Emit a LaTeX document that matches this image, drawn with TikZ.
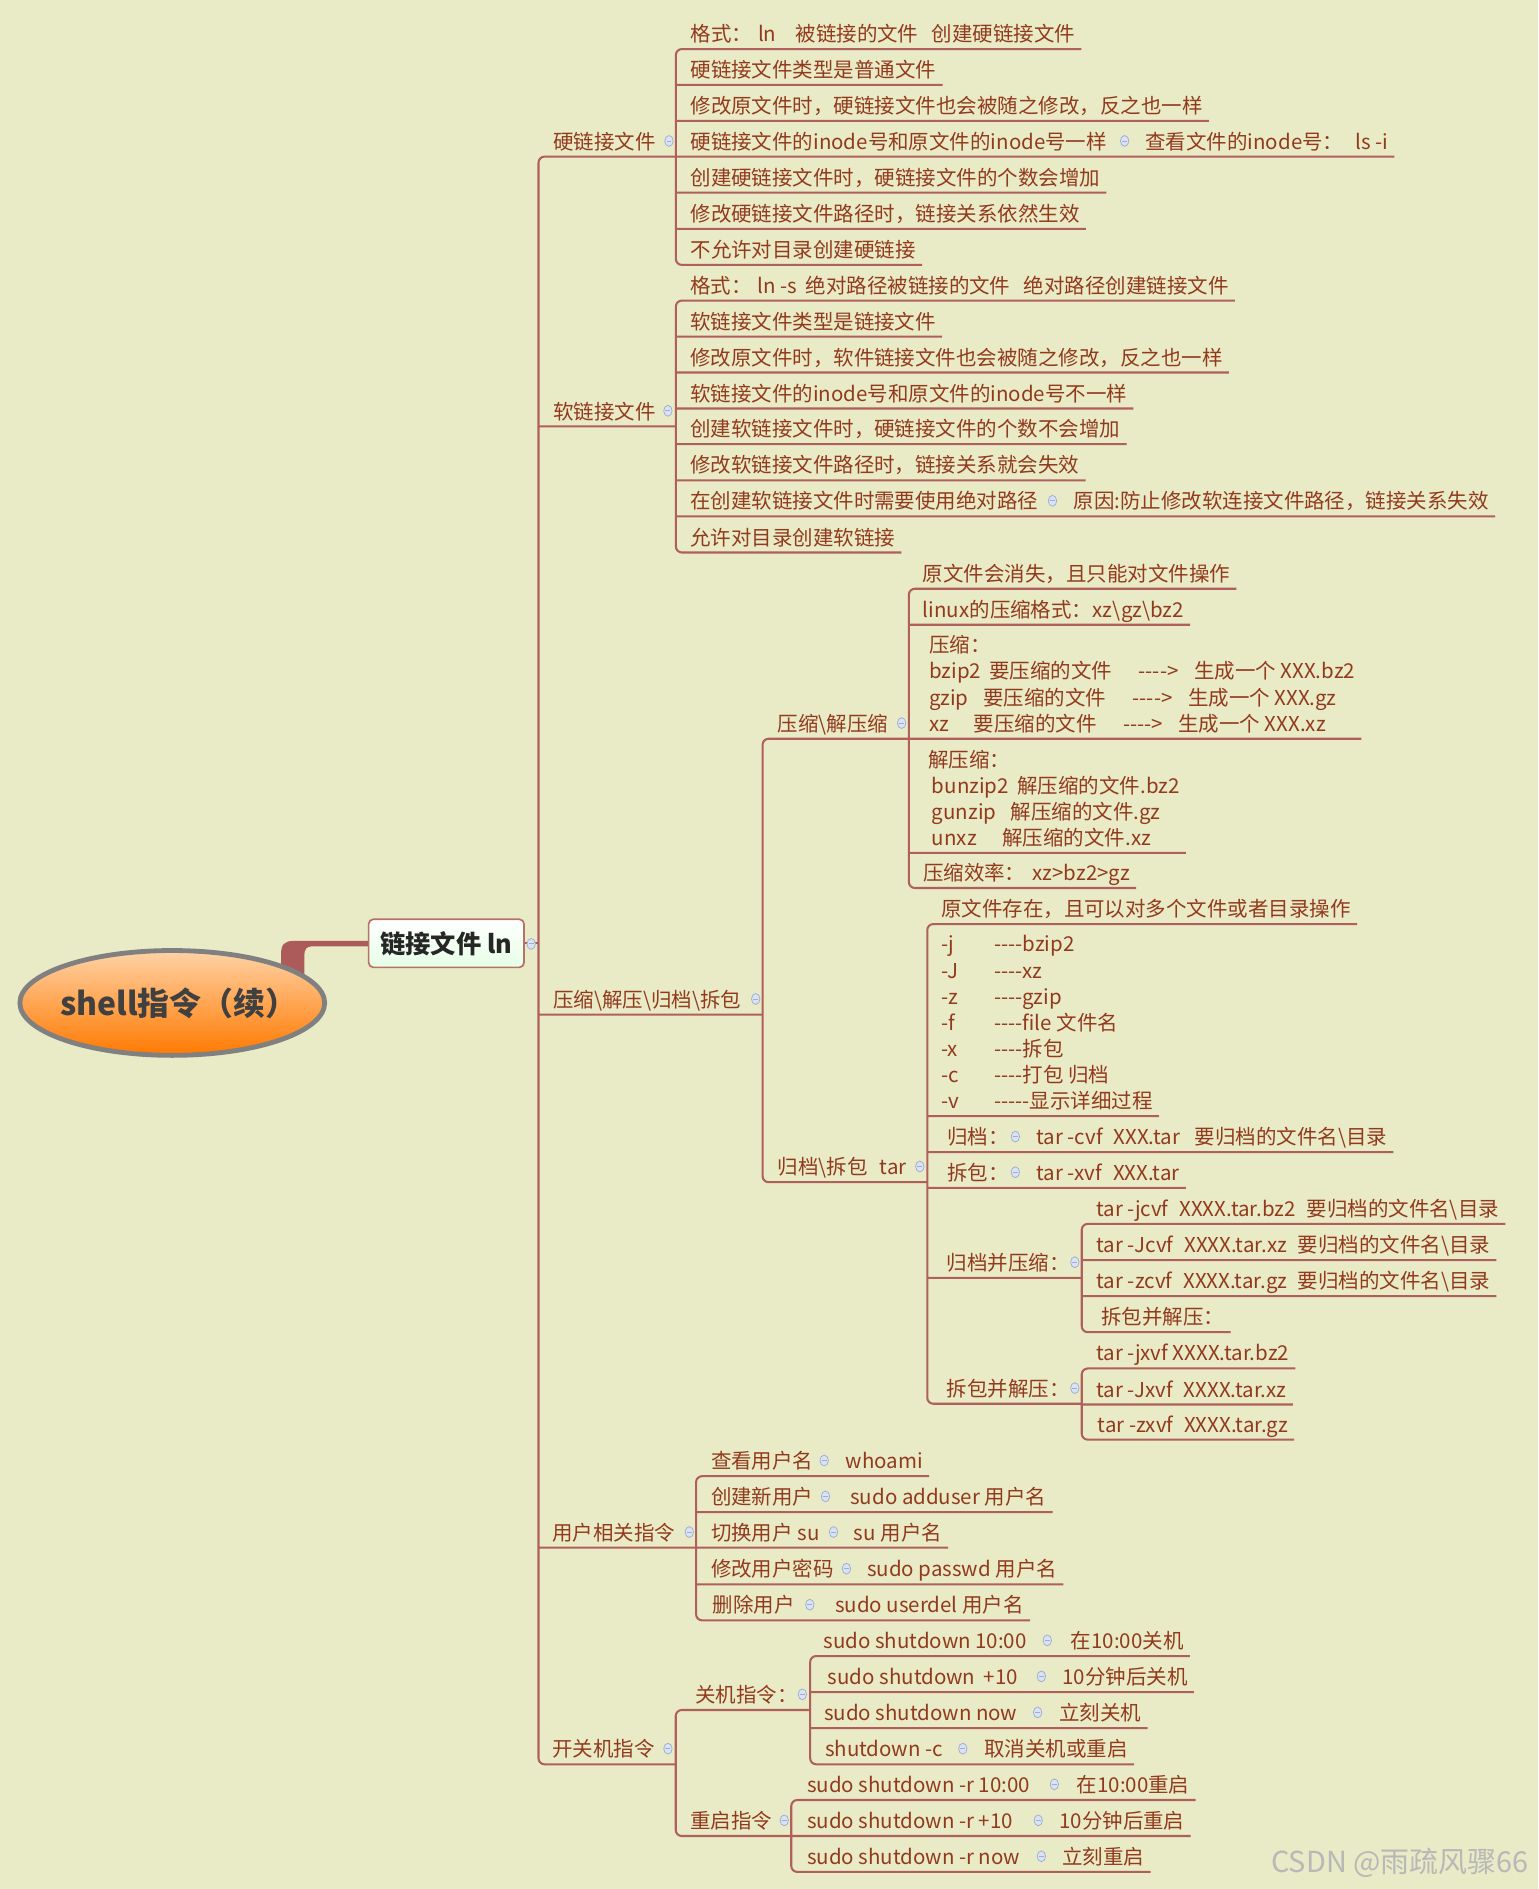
\documentclass[tikz,border=0pt]{standalone}
\usepackage{fontspec}
\usetikzlibrary{shapes.geometric, positioning}
\newfontfamily\cjk{Noto Sans CJK SC}
\definecolor{bgc}{HTML}{E9EAC6}
\definecolor{linec}{HTML}{B0605B}
\definecolor{txtc}{HTML}{923A1E}
\definecolor{indfill}{HTML}{D9E3F4}
\definecolor{inddraw}{HTML}{9DACCF}
\definecolor{stemc}{HTML}{AD5A5A}
\newcommand{\rows}[1]{\begin{tabular}[b]{@{}l@{}}#1\end{tabular}}

\tikzset{
  topic/.style={font=\cjk\fontsize{17}{21.7}\selectfont, text=txtc, inner sep=0pt, text depth=6pt, anchor=south west},
  branch/.style={draw=linec, line width=1.7pt, rounded corners=5pt},
  ind/.style={ellipse, minimum width=7pt, minimum height=9pt, inner sep=0pt, fill=indfill, draw=inddraw, line width=0.6pt,
    path picture={\draw[inddraw, line width=0.7pt] ([xshift=-2pt]path picture bounding box.center) -- ([xshift=2pt]path picture bounding box.center);}},
  rootnode/.style={ellipse, minimum width=253pt, minimum height=87pt, inner xsep=-40pt, inner ysep=0pt, draw=black!50, line width=4pt,
    top color=orange!35!white, bottom color=orange!95!red, text=black!75, font=\cjk\bfseries\fontsize{26.5}{30}\selectfont},
  linkbox/.style={rectangle, rounded corners=4pt, draw=linec!90, line width=1.4pt, minimum width=129pt, minimum height=40pt,
    inner sep=0pt, top color=white, bottom color=green!10!white, text=black!85, font=\cjk\bfseries\fontsize{21}{24}\selectfont},
  wmark/.style={text=black!28, font=\cjk\fontsize{24}{28}\selectfont, inner sep=0pt}
}

\begin{document}
\begin{tikzpicture}[x=1pt, y=-1pt]
  \fill[bgc] (0,0) rectangle (1277,1568);
  \useasboundingbox (0,0) rectangle (1277,1568);

  % branch columns
  \coordinate (rootV) at (447,0);
  \coordinate (hardV) at (561,0);
  \coordinate (softV) at (561,0);
  \coordinate (archV) at (633,0);
  \coordinate (zipV) at (754.4,0);
  \coordinate (tarV) at (769.7,0);
  \coordinate (packV) at (897.9,0);
  \coordinate (unpackV) at (897.9,0);
  \coordinate (userV) at (577.8,0);
  \coordinate (powerV) at (560.9,0);
  \coordinate (offV) at (672.5,0);
  \coordinate (rebootV) at (656.8,0);

  % central topics
  \node[linkbox] (link) at (370.5,783) {链接文件 ln};
  \fill[stemc] (233.3,815) -- (233.3,792) .. controls (233.3,784) and (236,781) .. (244,781)
    -- ([yshift=2pt]link.west) -- ([yshift=-2.5pt]link.west) -- (259,785.5)
    .. controls (254.5,785.5) and (252.6,788) .. (252.6,793) -- (252.6,815) -- cycle;
  \node[rootnode] (root) at (143,832.5) {\hspace{11pt}shell指令（续）};

  \node[topic] (hard) at (459,130) {硬链接文件};
  \node[topic] (soft) at (459,354) {软链接文件};
  \node[topic] (arch) at (459,842.2) {压缩\textbackslash 解压\textbackslash 归档\textbackslash 拆包};
  \node[topic] (user) at (458.1,1284.7) {用户相关指令};
  \node[topic] (power) at (458.4,1464.5) {开关机指令};

  % hard links
  \node[topic] (hard1) at (573,40.7) {格式：\hspace{5pt}ln\hspace{16pt}被链接的文件\hspace{11pt}创建硬链接文件};
  \node[topic] (hard2) at (573,70.5) {硬链接文件类型是普通文件};
  \node[topic] (hard3) at (573,100.4) {修改原文件时，硬链接文件也会被随之修改，反之也一样};
  \node[topic] (hard4) at (573,130) {硬链接文件的inode号和原文件的inode号一样};
  \node[topic] (hard4b) at (950.6,130) {查看文件的inode号：\hspace{10pt}ls -i};
  \node[topic] (hard5) at (573,159.9) {创建硬链接文件时，硬链接文件的个数会增加};
  \node[topic] (hard6) at (573,190) {修改硬链接文件路径时，链接关系依然生效};
  \node[topic] (hard7) at (573,219.9) {不允许对目录创建硬链接};

  % soft links
  \node[topic] (soft1) at (572.7,249.5) {格式：\hspace{5pt}ln -s\hspace{7pt}绝对路径被链接的文件\hspace{11pt}绝对路径创建链接文件};
  \node[topic] (soft2) at (572.7,279.4) {软链接文件类型是链接文件};
  \node[topic] (soft3) at (572.7,309.2) {修改原文件时，软件链接文件也会被随之修改，反之也一样};
  \node[topic] (soft4) at (572.7,339.1) {软链接文件的inode号和原文件的inode号不一样};
  \node[topic] (soft5) at (572.7,368.7) {创建软链接文件时，硬链接文件的个数不会增加};
  \node[topic] (soft6) at (572.7,398.8) {修改软链接文件路径时，链接关系就会失效};
  \node[topic] (soft7) at (572.7,428.7) {在创建软链接文件时需要使用绝对路径};
  \node[topic] (soft7b) at (890.9,428.7) {原因:防止修改软连接文件路径，链接关系失效};
  \node[topic] (soft8) at (572.7,458.6) {允许对目录创建软链接};

  % compression
  \node[topic] (zip) at (645.4,613.2) {压缩\textbackslash 解压缩};
  \node[topic] (zip1) at (765.9,488.7) {原文件会消失，且只能对文件操作};
  \node[topic] (zip2) at (765.9,518.6) {linux的压缩格式：xz\textbackslash gz\textbackslash bz2};
  \node[topic] (zip3) at (771,613.2) {\rows{压缩：\\
    \makebox[50pt][l]{bzip2}\makebox[124pt][l]{要压缩的文件}\makebox[46pt][l]{---->}生成一个 XXX.bz2\\
    \makebox[45pt][l]{gzip}\makebox[124pt][l]{要压缩的文件}\makebox[46pt][l]{---->}生成一个 XXX.gz\\
    \makebox[37pt][l]{xz}\makebox[124pt][l]{要压缩的文件}\makebox[46pt][l]{---->}生成一个 XXX.xz}};
  \node[topic] (zip4) at (770.4,708) {\rows{解压缩：\\
    \hspace{3pt}\makebox[71pt][l]{bunzip2}解压缩的文件.bz2\\
    \hspace{3pt}\makebox[65.5pt][l]{gunzip}解压缩的文件.gz\\
    \hspace{3pt}\makebox[58.5pt][l]{unxz}解压缩的文件.xz}};
  \node[topic] (zip5) at (766,737.1) {压缩效率：\hspace{6pt}xz>bz2>gz};

  % archiving
  \node[topic] (tar) at (645.4,981.3) {归档\textbackslash 拆包\hspace{10pt}tar};
  \node[topic] (tar1) at (781,767) {原文件存在，且可以对多个文件或者目录操作};
  \node[topic] (tar2) at (781,926.5) {\rows{\makebox[44pt][l]{-j}----bzip2\\
    \makebox[44pt][l]{-J}----xz\\
    \makebox[44pt][l]{-z}----gzip\\
    \makebox[44pt][l]{-f}----file 文件名\\
    \makebox[44pt][l]{-x}----拆包\\
    \makebox[44pt][l]{-c}----打包 归档\\
    \makebox[44pt][l]{-v}-----显示详细过程}};
  \node[topic] (tar3) at (786.2,956.4) {归档：};
  \node[topic] (tar3b) at (860.2,956.4) {tar -cvf\hspace{9pt}XXX.tar\hspace{12pt}要归档的文件名\textbackslash 目录};
  \node[topic] (tar4) at (786.2,986) {拆包：};
  \node[topic] (tar4b) at (860.2,986) {tar -xvf\hspace{9pt}XXX.tar};
  \node[topic] (pack) at (785.7,1060.7) {归档并压缩：};
  \node[topic] (pack1) at (910.1,1015.9) {tar -jcvf\hspace{9pt}XXXX.tar.bz2\hspace{9pt}要归档的文件名\textbackslash 目录};
  \node[topic] (pack2) at (910.1,1046) {tar -Jcvf\hspace{9pt}XXXX.tar.xz\hspace{9pt}要归档的文件名\textbackslash 目录};
  \node[topic] (pack3) at (910.1,1075.9) {tar -zcvf\hspace{9pt}XXXX.tar.gz\hspace{9pt}要归档的文件名\textbackslash 目录};
  \node[topic] (pack4) at (914.1,1105.8) {拆包并解压：};
  \node[topic] (unpack) at (785.7,1165.2) {拆包并解压：};
  \node[topic] (unpack1) at (910.1,1135.9) {tar -jxvf XXXX.tar.bz2};
  \node[topic] (unpack2) at (910.1,1165.8) {tar -Jxvf\hspace{9pt}XXXX.tar.xz};
  \node[topic] (unpack3) at (911,1195) {tar -zxvf\hspace{9pt}XXXX.tar.gz};

  % users
  \node[topic] (user1) at (590,1225.3) {查看用户名};
  \node[topic] (user1b) at (701.9,1225.3) {whoami};
  \node[topic] (user2) at (590,1255.1) {创建新用户};
  \node[topic] (user2b) at (705.6,1255.1) {sudo adduser 用户名};
  \node[topic] (user3) at (590,1284.7) {切换用户 su};
  \node[topic] (user3b) at (708.6,1284.7) {su 用户名};
  \node[topic] (user4) at (590,1315.1) {修改用户密码};
  \node[topic] (user4b) at (719.6,1315.1) {sudo passwd 用户名};
  \node[topic] (user5) at (591.5,1345) {删除用户};
  \node[topic] (user5b) at (693,1345) {sudo userdel 用户名};

  % power
  \node[topic] (off) at (577,1419.4) {关机指令：};
  \node[topic] (off1) at (683.3,1374.6) {sudo shutdown 10:00};
  \node[topic] (off1b) at (888.7,1374.6) {在10:00关机};
  \node[topic] (off2) at (687,1404.5) {sudo shutdown\hspace{7pt}+10};
  \node[topic] (off2b) at (881.7,1404.5) {10分钟后关机};
  \node[topic] (off3) at (683.8,1434.4) {sudo shutdown now};
  \node[topic] (off3b) at (879.1,1434.4) {立刻关机};
  \node[topic] (off4) at (684.6,1464.5) {shutdown -c};
  \node[topic] (off4b) at (817,1464.5) {取消关机或重启};
  \node[topic] (reboot) at (572.7,1524) {重启指令};
  \node[topic] (reboot1) at (669.8,1494.1) {sudo shutdown -r 10:00};
  \node[topic] (reboot1b) at (893.6,1494.1) {在10:00重启};
  \node[topic] (reboot2) at (669.8,1524) {sudo shutdown -r +10};
  \node[topic] (reboot2b) at (879.1,1524) {10分钟后重启};
  \node[topic] (reboot3) at (669.8,1553.8) {sudo shutdown -r now};
  \node[topic] (reboot3b) at (881.7,1553.8) {立刻重启};

  % underlines and branches
  \draw[branch] (link.east) -- (link.east -| rootV);
  \draw[branch] (hard.south -| hardV) -- (hard.south -| rootV) -- (power.south -| rootV) -- (power.south -| powerV)
    (soft.south -| rootV) -- (soft.south -| softV)
    (arch.south -| rootV) -- (arch.south -| archV)
    (user.south -| rootV) -- (user.south -| userV);
  \draw[branch] ([xshift=5pt]hard1.south east) -- (hard1.south -| hardV) -- (hard7.south -| hardV) -- ([xshift=5pt]hard7.south east)
    (hard2.south -| hardV) -- ([xshift=5pt]hard2.south east)
    (hard3.south -| hardV) -- ([xshift=5pt]hard3.south east)
    (hard4.south -| hardV) -- ([xshift=5pt]hard4b.south east)
    (hard5.south -| hardV) -- ([xshift=5pt]hard5.south east)
    (hard6.south -| hardV) -- ([xshift=5pt]hard6.south east);
  \draw[branch] ([xshift=5pt]soft1.south east) -- (soft1.south -| softV) -- (soft8.south -| softV) -- ([xshift=5pt]soft8.south east)
    (soft2.south -| softV) -- ([xshift=5pt]soft2.south east)
    (soft3.south -| softV) -- ([xshift=5pt]soft3.south east)
    (soft4.south -| softV) -- ([xshift=5pt]soft4.south east)
    (soft5.south -| softV) -- ([xshift=5pt]soft5.south east)
    (soft6.south -| softV) -- ([xshift=5pt]soft6.south east)
    (soft7.south -| softV) -- ([xshift=5pt]soft7b.south east);
  \draw[branch] (zip.south -| zipV) -- (zip.south -| archV) -- (tar.south -| archV) -- (tar.south -| tarV);
  \draw[branch] ([xshift=5pt]zip1.south east) -- (zip1.south -| zipV) -- (zip5.south -| zipV) -- ([xshift=5pt]zip5.south east)
    (zip2.south -| zipV) -- ([xshift=5pt]zip2.south east)
    (zip3.south -| zipV) -- ([xshift=5pt]zip3.south east)
    (zip4.south -| zipV) -- ([xshift=5pt]zip4.south east);
  \draw[branch] ([xshift=5pt]tar1.south east) -- (tar1.south -| tarV) -- (unpack.south -| tarV) -- (unpack.south -| unpackV)
    (tar2.south -| tarV) -- ([xshift=5pt]tar2.south east)
    (tar3.south -| tarV) -- ([xshift=5pt]tar3b.south east)
    (tar4.south -| tarV) -- ([xshift=5pt]tar4b.south east)
    (pack.south -| tarV) -- (pack.south -| packV);
  \draw[branch] ([xshift=5pt]pack1.south east) -- (pack1.south -| packV) -- (pack4.south -| packV) -- ([xshift=5pt]pack4.south east)
    (pack2.south -| packV) -- ([xshift=5pt]pack2.south east)
    (pack3.south -| packV) -- ([xshift=5pt]pack3.south east);
  \draw[branch] ([xshift=5pt]unpack1.south east) -- (unpack1.south -| unpackV) -- (unpack3.south -| unpackV) -- ([xshift=5pt]unpack3.south east)
    (unpack2.south -| unpackV) -- ([xshift=5pt]unpack2.south east);
  \draw[branch] ([xshift=5pt]user1b.south east) -- (user1.south -| userV) -- (user5.south -| userV) -- ([xshift=5pt]user5b.south east)
    (user2.south -| userV) -- ([xshift=5pt]user2b.south east)
    (user3.south -| userV) -- ([xshift=5pt]user3b.south east)
    (user4.south -| userV) -- ([xshift=5pt]user4b.south east);
  \draw[branch] (off.south -| offV) -- (off.south -| powerV) -- (reboot.south -| powerV) -- (reboot.south -| rebootV);
  \draw[branch] ([xshift=5pt]off1b.south east) -- (off1.south -| offV) -- (off4.south -| offV) -- ([xshift=5pt]off4b.south east)
    (off2.south -| offV) -- ([xshift=5pt]off2b.south east)
    (off3.south -| offV) -- ([xshift=5pt]off3b.south east);
  \draw[branch] ([xshift=5pt]reboot1b.south east) -- (reboot1.south -| rebootV) -- (reboot3.south -| rebootV) -- ([xshift=5pt]reboot3b.south east)
    (reboot2.south -| rebootV) -- ([xshift=5pt]reboot2b.south east);

  % collapse markers
  \node[ind] (linkI) at (440.9,783.5) {};
  \node[ind] (hardI) at (555.3,117) {};
  \node[ind] (hard4I) at (933.5,117) {};
  \node[ind] (softI) at (554.4,341) {};
  \node[ind] (soft7I) at (873.6,415.7) {};
  \node[ind] (archI) at (627.3,829.2) {};
  \node[ind] (zipI) at (748.4,600.2) {};
  \node[ind] (tarI) at (763.5,968.3) {};
  \node[ind] (tar3I) at (842.8,943.4) {};
  \node[ind] (tar4I) at (842.8,973) {};
  \node[ind] (packI) at (892.2,1047.7) {};
  \node[ind] (unpackI) at (892.2,1152.2) {};
  \node[ind] (userI) at (572.2,1271.7) {};
  \node[ind] (user1I) at (684.1,1212.3) {};
  \node[ind] (user2I) at (685.2,1242.1) {};
  \node[ind] (user3I) at (691.9,1271.7) {};
  \node[ind] (user4I) at (702.6,1302.1) {};
  \node[ind] (user5I) at (672.2,1332) {};
  \node[ind] (powerI) at (554.4,1451.5) {};
  \node[ind] (offI) at (666,1406.4) {};
  \node[ind] (off1I) at (869.3,1361.6) {};
  \node[ind] (off2I) at (864.4,1391.5) {};
  \node[ind] (off3I) at (861.3,1421.4) {};
  \node[ind] (off4I) at (799.2,1451.5) {};
  \node[ind] (rebootI) at (651,1511) {};
  \node[ind] (reboot1I) at (875.2,1481.1) {};
  \node[ind] (reboot2I) at (861.8,1511) {};
  \node[ind] (reboot3I) at (864.4,1540.8) {};

  \node[wmark] (credit) at (1162,1546) {CSDN @雨疏风骤66};
\end{tikzpicture}
\end{document}
